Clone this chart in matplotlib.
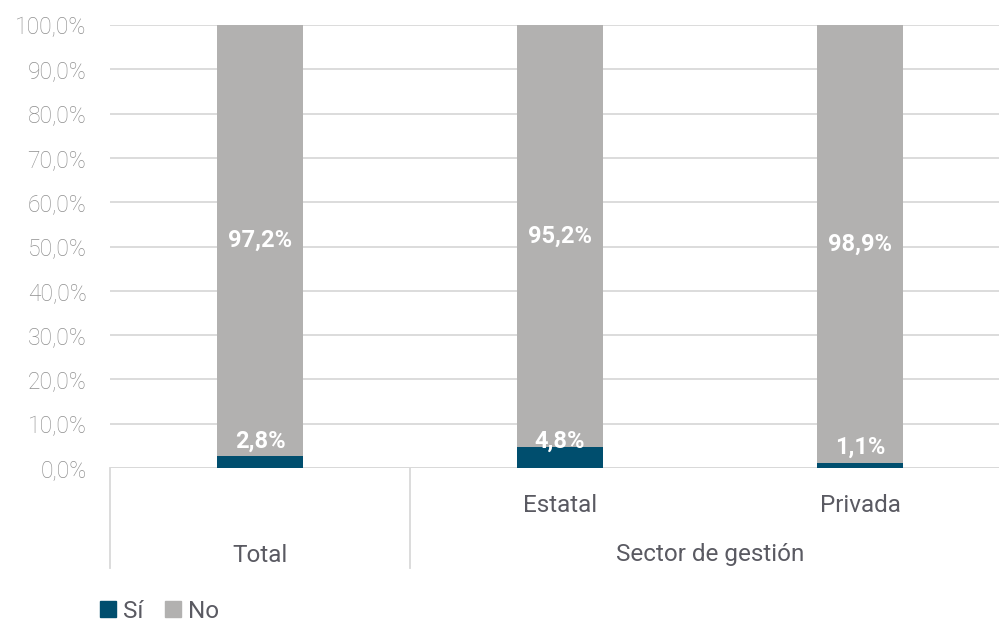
import matplotlib.pyplot as plt
import matplotlib.patches as mpatches
import numpy as np

# data
categorias = ["Total", "Estatal", "Privada"]
si = [2.8, 4.8, 1.1]
no = [97.2, 95.2, 98.9]
yticks = list(range(0, 101, 10))

azul = "#004e6e"
gris = "#b2b1b0"
txt = "#5a5a62"

plt.rcParams['font.family'] = ['Roboto', 'DejaVu Sans']

fig = plt.figure(figsize=(9.99, 6.21), dpi=100)
ax = fig.add_axes([110/999, 1 - 468/621, 889/999, 443/621])

x = np.arange(len(categorias))
w = 0.285
ax.bar(x, si, w, color=azul, zorder=3)
ax.bar(x, no, w, bottom=si, color=gris, zorder=3)

# etiquetas
offs_si = [3.3, 1.3, 3.6]
for i in range(len(x)):
    ax.text(x[i], si[i] + offs_si[i], f"{si[i]:.1f}%".replace(".", ","),
            ha="center", va="center", color="white", fontsize=17, fontweight="bold", zorder=4)
    ax.text(x[i], si[i] + no[i] / 2, f"{no[i]:.1f}%".replace(".", ","),
            ha="center", va="center", color="white", fontsize=17, fontweight="bold", zorder=4)

ax.set_xlim(-0.5, 2.5 - 11/300)
ax.set_ylim(0, 100)
ax.set_yticks(yticks)
ax.set_yticklabels([f"{t:.1f}%".replace(".", ",") for t in yticks],
                   fontsize=16.5, fontweight="light", color="#8f8f8f")
ax.tick_params(axis="y", length=0, pad=17)
ax.set_xticks([])
ax.grid(axis="y", color="#d9d9d9", linewidth=1.3, zorder=0)
for s in ax.spines.values():
    s.set_visible(False)
ax.axhline(0, color="#d9d9d9", linewidth=1.3, zorder=2)

# eje x de dos niveles
def yfig(py):
    return 1 - py / 621

for xs in [-0.5, 0.5]:
    ax.plot([xs, xs], [0, -100/443*100], color="#d9d9d9", linewidth=1.3, clip_on=False)

ax.text(1, -37/443*100, "Estatal", ha="center", va="center", fontsize=17.5, color=txt)
ax.text(2, -37/443*100, "Privada", ha="center", va="center", fontsize=17.5, color=txt)
ax.text(0, -87/443*100, "Total", ha="center", va="center", fontsize=17.5, color=txt)
ax.text(1.5, -87/443*100, "Sector de gestión", ha="center", va="center", fontsize=17.5, color=txt)

# leyenda
leg = fig.legend(handles=[mpatches.Patch(color=azul, label="Sí"),
                          mpatches.Patch(color=gris, label="No")],
                 loc="center left", bbox_to_anchor=(78/999, yfig(611)), ncol=2, frameon=False,
                 fontsize=17.5, handlelength=0.65, handleheight=0.65, handletextpad=0.3,
                 columnspacing=0.9)
for t in leg.get_texts():
    t.set_color(txt)

fig.savefig("out.png", dpi=100)
